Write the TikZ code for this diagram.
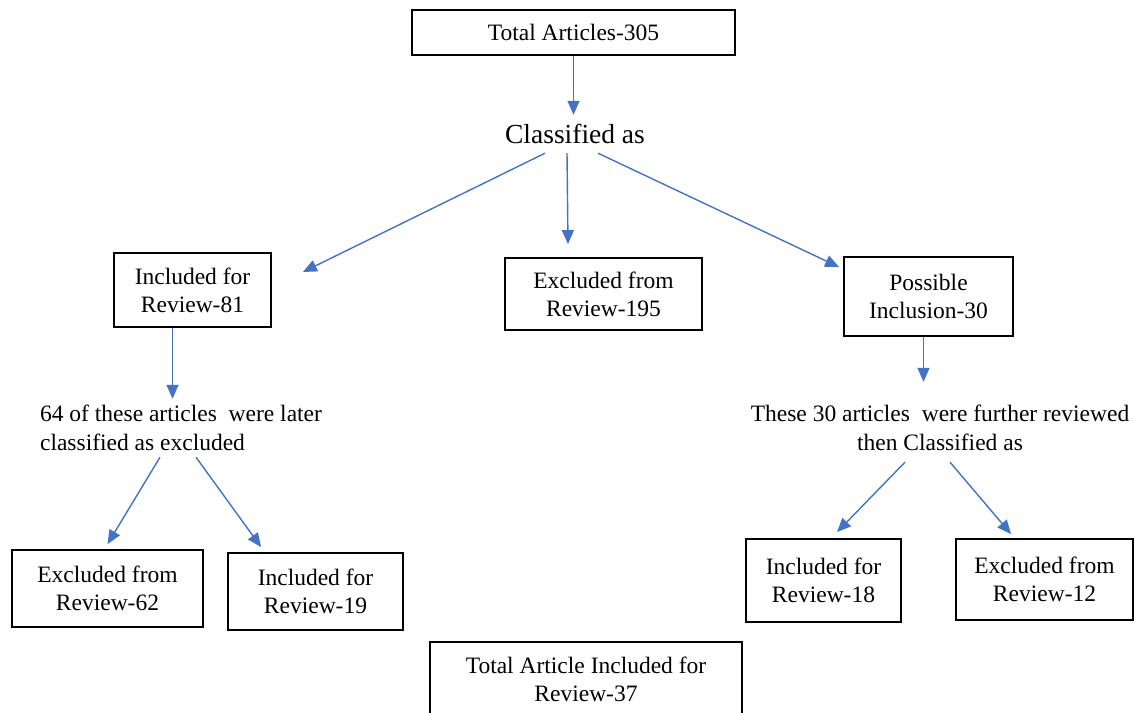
\documentclass[tikz,border=0pt]{standalone}
\usepackage{fontspec}
\setmainfont{LiberationSerif}[Extension=.ttf,UprightFont=*-Regular]
\usetikzlibrary{arrows.meta}
\definecolor{arrblue}{RGB}{68,114,196}
\begin{document}
\begin{tikzpicture}[x=1pt,y=-1pt,
  box/.style={draw=black,line width=1.8pt,inner sep=0pt,align=center,
    font=\fontsize{23.5}{28}\selectfont},
  plain/.style={inner sep=0pt,font=\fontsize{23.5}{29}\selectfont},
  arr/.style={draw=arrblue,line width=1.4pt,-{Triangle[length=14pt,width=12pt]}}]
\useasboundingbox (0,0) rectangle (1134,712);
% nodes
\node[box,minimum width=323,minimum height=45] (tot) at (573.5,32.5) {Total Articles-305};
\node[inner sep=0pt,minimum height=38,font=\fontsize{27.5}{32}\selectfont] (cls) at (575,134) {Classified as};
\node[box,minimum width=157,minimum height=74] (inc81) at (192.5,290) {Included for\\Review-81};
\node[box,minimum width=197,minimum height=72] (exc195) at (603.5,294) {Excluded from\\Review-195};
\node[box,minimum width=169,minimum height=79] (pos30) at (928.5,296.5) {Possible\\Inclusion-30};
\node[plain,align=left,minimum height=58] (txt64) at (181,428) {64 of these articles\ \ were later\\classified as excluded};
\node[plain,align=center,minimum height=60] (txt30) at (940,428) {These 30 articles\ \ were further reviewed\\then Classified as};
\node[box,minimum width=191,minimum height=77] (exc62) at (107.5,588.5) {Excluded from\\Review-62};
\node[box,minimum width=175,minimum height=77] (inc19) at (315.5,591.5) {Included for\\Review-19};
\node[box,minimum width=155,minimum height=83] (inc18) at (823.5,580.5) {Included for\\Review-18};
\node[box,minimum width=177,minimum height=81] (exc12) at (1044.5,579.5) {Excluded from\\Review-12};
\node[box,minimum width=312,minimum height=74] (tot37) at (586,679) {Total Article Included for\\Review-37};
% connectors
\draw[arr] (tot.south) -- (tot.south |- cls.north);
\draw[arr] ([xshift=-30]cls.south) -- ([xshift=31,yshift=18]inc81.east);
\draw[arr] ([xshift=-8]cls.south) -- ([xshift=-35.5,yshift=13]exc195.north);
\draw[arr] ([xshift=23]cls.south) -- ([xshift=-4,yshift=-11]pos30.north west);
\draw[arr] ([xshift=-20]inc81.south) -- ([xshift=-20]inc81.south |- txt64.north);
\draw[arr,shorten >=16pt] ([xshift=-5]pos30.south) -- ([xshift=-5]pos30.south |- txt30.north);
\draw[arr] ([xshift=-21]txt64.south) -- ([yshift=5]exc62.north);
\draw[arr] ([xshift=15]txt64.south) -- ([xshift=34,yshift=5]inc19.north west);
\draw[arr] ([xshift=-35,yshift=-4]txt30.south) -- ([xshift=13.5,yshift=6]inc18.north);
\draw[arr] ([xshift=10,yshift=-4]txt30.south) -- ([xshift=56,yshift=4]exc12.north west);
\end{tikzpicture}
\end{document}
